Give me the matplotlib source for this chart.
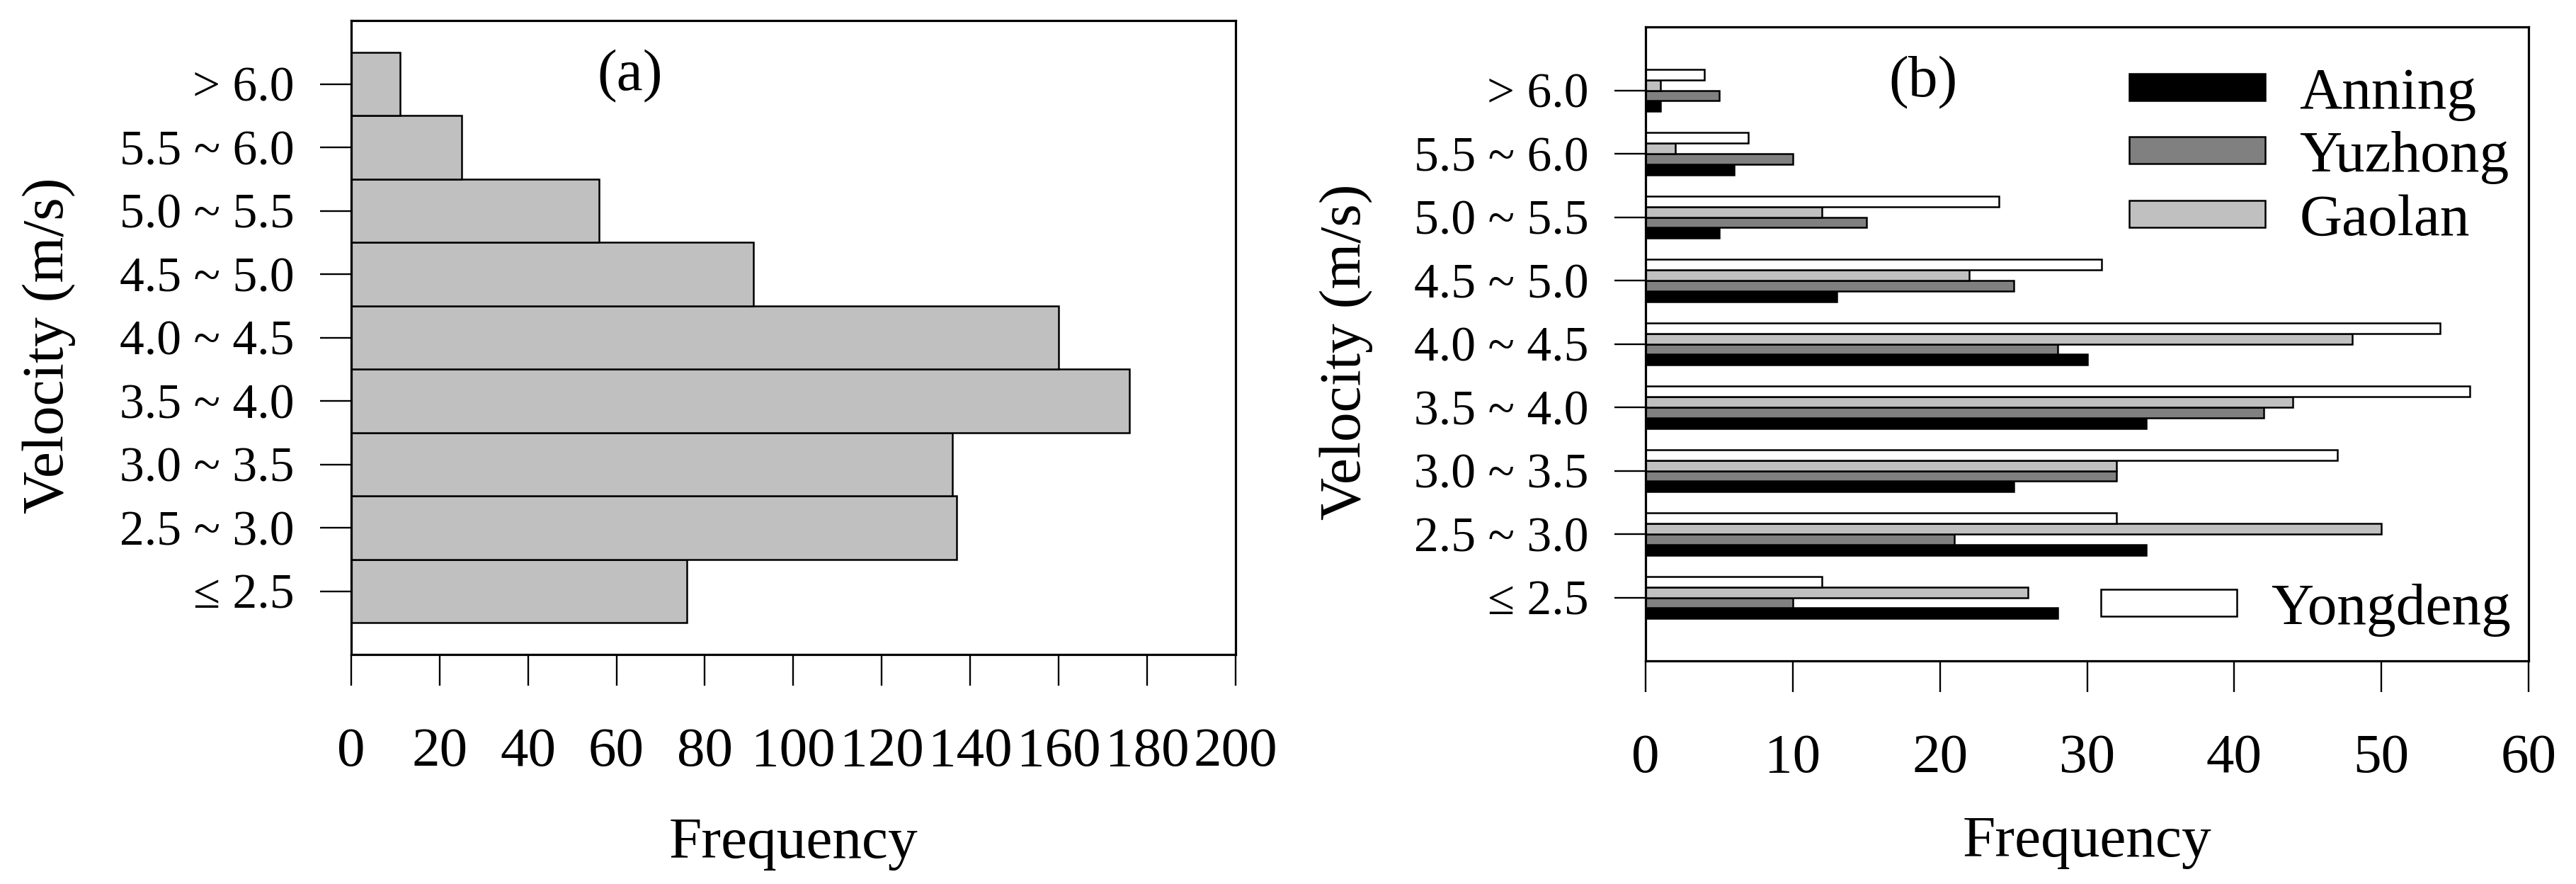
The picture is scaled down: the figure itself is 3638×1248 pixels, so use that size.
import matplotlib
matplotlib.use("Agg")
import matplotlib.pyplot as plt
import numpy as np
from matplotlib.patches import Patch

plt.rcParams["font.family"] = ["Liberation Serif", "DejaVu Serif"]

# wind speed classes, bottom to top
categories = ["≤ 2.5", "2.5 ~ 3.0", "3.0 ~ 3.5", "3.5 ~ 4.0", "4.0 ~ 4.5",
              "4.5 ~ 5.0", "5.0 ~ 5.5", "5.5 ~ 6.0", "> 6.0"]

# (a) all stations together
total = [76, 137, 136, 176, 160, 91, 56, 25, 11]

# (b) per station
anning = [28, 34, 25, 34, 30, 13, 5, 6, 1]
yuzhong = [10, 21, 32, 42, 28, 25, 15, 10, 5]
gaolan = [26, 50, 32, 44, 48, 22, 12, 2, 1]
yongdeng = [12, 32, 47, 56, 54, 31, 24, 7, 4]

stations = ["Anning", "Yuzhong", "Gaolan", "Yongdeng"]
station_colors = ["#000000", "#808080", "#c0c0c0", "#ffffff"]

YTICK_FS = 50
XTICK_FS = 57
LABEL_FS = 60
BAR_LW = 1.8
AX_LW = 2.3

fig = plt.figure(figsize=(36.38, 12.48), dpi=100)
ax_a = fig.add_axes([0.1363, 0.2596, 0.3433, 0.7171])
ax_b = fig.add_axes([0.6388, 0.2524, 0.3428, 0.7171])

y = np.arange(len(categories))


def style_axes(ax, xmax, xstep, xlab_y, ylab_x):
    ax.set_ylim(-1, len(categories))
    ax.set_xlim(0, xmax)
    ax.set_xticks(np.arange(0, xmax + 1, xstep))
    ax.set_yticks(y)
    ax.set_yticklabels(categories)
    ax.tick_params(axis="both", direction="out", length=32, width=1.7,
                   top=False, right=False)
    ax.tick_params(axis="x", pad=42, labelsize=XTICK_FS)
    ax.tick_params(axis="y", pad=26, labelsize=YTICK_FS)
    for sp in ax.spines.values():
        sp.set_linewidth(AX_LW)
    ax.set_xlabel("Frequency", fontsize=LABEL_FS)
    ax.set_ylabel("Velocity (m/s)", fontsize=LABEL_FS)
    ax.xaxis.set_label_coords(0.5, xlab_y)
    ax.yaxis.set_label_coords(ylab_x, 0.488)


# panel (a)
ax_a.barh(y, total, height=1.0, color="#c0c0c0", edgecolor="black",
          linewidth=BAR_LW)
style_axes(ax_a, 200, 20, -0.256, -0.311)
ax_a.text(0.315, 0.912, "(a)", transform=ax_a.transAxes, fontsize=LABEL_FS,
          ha="center", va="center")

# panel (b)
bar_h = 1 / 6
series = [anning, yuzhong, gaolan, yongdeng]
offsets = [-1.5 * bar_h, -0.5 * bar_h, 0.5 * bar_h, 1.5 * bar_h]
for vals, off, col in zip(series, offsets, station_colors):
    ax_b.barh(y + off, vals, height=bar_h, color=col, edgecolor="black",
              linewidth=BAR_LW)
style_axes(ax_b, 60, 10, -0.244, -0.309)
ax_b.text(0.314, 0.912, "(b)", transform=ax_b.transAxes, fontsize=LABEL_FS,
          ha="center", va="center")

handles = [Patch(facecolor=c, edgecolor="black", linewidth=BAR_LW)
           for c in station_colors]
leg_kw = dict(frameon=False, fontsize=LABEL_FS, handlelength=2.3,
              handleheight=0.325, handletextpad=0.58, borderpad=0,
              borderaxespad=0, labelspacing=0.17)
leg1 = ax_b.legend(handles[:3], stations[:3], loc="center left",
                   bbox_to_anchor=(0.548, 0.794), **leg_kw)
ax_b.add_artist(leg1)
ax_b.legend(handles[3:], stations[3:], loc="center left",
            bbox_to_anchor=(0.516, 0.080), **leg_kw)

fig.savefig("out.png", dpi=100)
